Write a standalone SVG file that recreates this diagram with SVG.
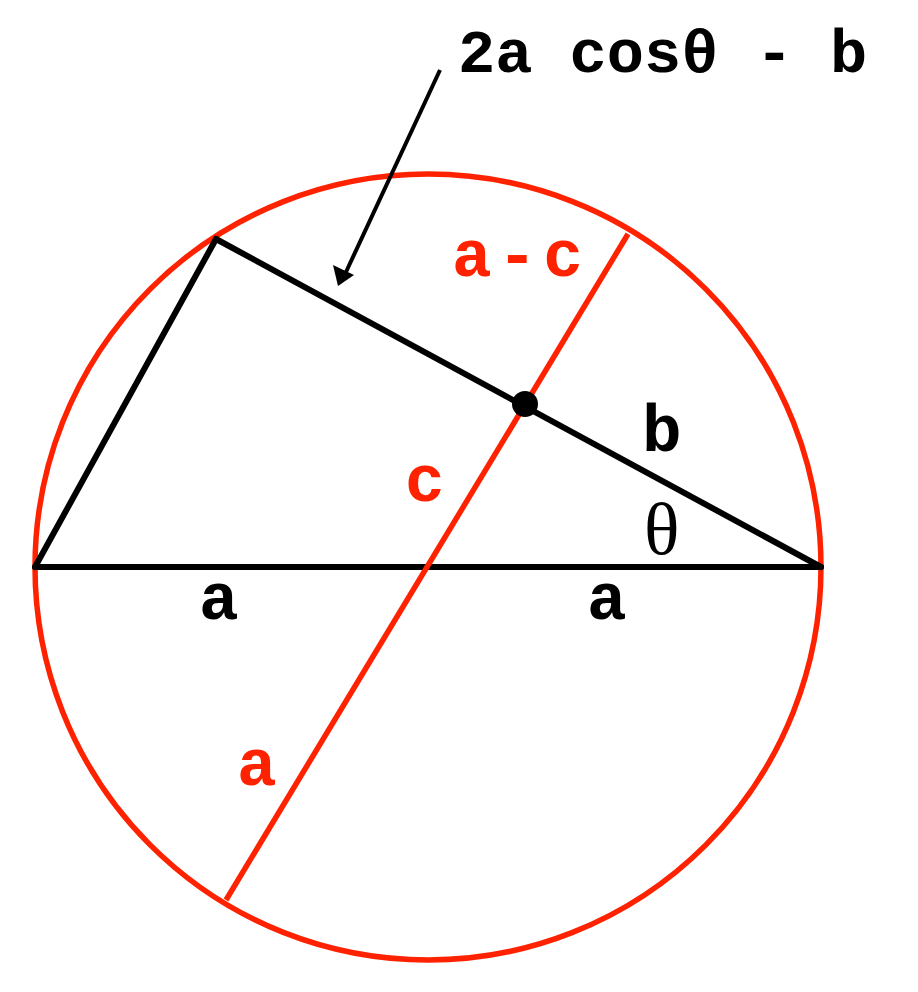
<svg xmlns="http://www.w3.org/2000/svg" width="918" height="992" viewBox="0 0 918 992">
<style>
.blk{stroke:#000;stroke-width:6;fill:none;stroke-linecap:round}
.red{stroke:#ff2200;stroke-width:5.5;fill:none}
.t{font-family:"Liberation Mono","Courier New",monospace;font-weight:bold;font-size:66px}
.tr{fill:#ff2200}
.tb{fill:#000}
</style>
<rect width="918" height="992" fill="#fff"/>
<g id="circle"><circle cx="428" cy="567" r="393" class="red"/></g>
<g id="connectors">
<line x1="35" y1="567" x2="821" y2="567" class="blk"/>
<line x1="35" y1="567" x2="216" y2="239" class="blk"/>
<line x1="216" y1="239" x2="821" y2="567" class="blk"/>
<line x1="628" y1="234" x2="226" y2="900" class="red"/>
<line x1="440" y1="70" x2="346" y2="272" stroke="#000" stroke-width="4"/>
<path d="M338,286 L333,265 L354,275 z" fill="#000"/>
</g>
<g id="dot"><circle cx="525" cy="404" r="13" fill="#000"/></g>
<g id="labels">
<text class="t tb" x="458" y="72" style="font-size:62px">2a cosθ - b</text>
<text class="t tr" x="452" y="276" letter-spacing="6">a-c</text>
<text class="t tb" x="642" y="451">b</text>
<text class="t tr" x="405" y="501">c</text>
<text x="644" y="554" font-family="Liberation Serif,Times New Roman,serif" font-size="74" fill="#000">θ</text>
<text class="t tb" x="199" y="619">a</text>
<text class="t tb" x="587" y="619">a</text>
<text class="t tr" x="237" y="785">a</text>
</g>
</svg>
